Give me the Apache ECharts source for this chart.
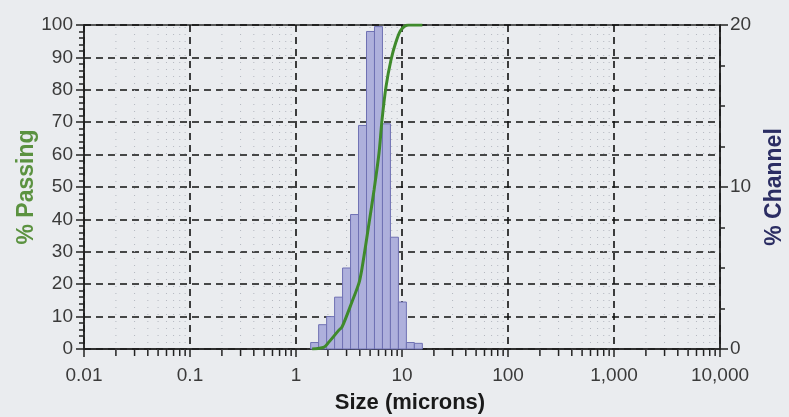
<!DOCTYPE html>
<html>
<head>
<meta charset="utf-8">
<script src="https://cdn.jsdelivr.net/npm/echarts@6/dist/echarts.min.js"></script>
<style>
html,body{margin:0;padding:0;background:#e9ebee;}
#c{width:789px;height:417px;}
</style>
</head>
<body>
<div id="c"></div>
<script>
// Channel bins (microns) and % channel values
const binLower = [1.375, 1.635, 1.945, 2.312, 2.750, 3.270, 3.889, 4.625, 5.500, 6.541, 7.778, 9.250, 11.00, 13.08];
const binUpper = [1.635, 1.945, 2.312, 2.750, 3.270, 3.889, 4.625, 5.500, 6.541, 7.778, 9.250, 11.00, 13.08, 15.56];
const channelPct = [0.4, 1.5, 2.0, 3.2, 5.0, 8.3, 13.8, 19.6, 19.9, 13.9, 6.9, 2.9, 0.4, 0.35];

// Cumulative % passing curve
const passSize = [1.42, 1.84, 2.05, 2.55, 2.72, 3.37, 3.93, 4.20, 4.89, 5.45, 6.07, 6.48, 7.06, 7.87, 8.78, 9.79, 11.6, 15.56];
const passPct  = [0, 0.6, 2.2, 5.9, 6.8, 14.5, 20.4, 25.0, 38.9, 49.1, 60.5, 70.7, 80.9, 89.2, 94.8, 98.5, 100, 100];

// Tick labels
const xTickLabels = ['0.01', '0.1', '1', '10', '100', '1,000', '10,000'];
const xDecades = [0.01, 0.1, 1, 10, 100, 1000, 10000];
const minorMultipliers = [2, 3, 4, 5, 6, 7, 8, 9];

const minorPositions = [];
for (let d = 0; d < xDecades.length - 1; d++) {
  for (const m of minorMultipliers) minorPositions.push(xDecades[d] * m);
}

const chart = echarts.init(document.getElementById('c'));
const FONT = 'Liberation Sans, Arial, sans-serif';

const option = {
  backgroundColor: '#eaecef',
  animation: false,
  grid: { left: 84, right: 69, top: 25, bottom: 68, containLabel: false, outerBoundsMode: 'none',
          show: true, borderColor: '#2a2a2a', borderWidth: 1.5, backgroundColor: 'transparent' },
  xAxis: {
    type: 'log', logBase: 10, min: 0.01, max: 10000,
    name: 'Size (microns)', nameLocation: 'middle', nameGap: 43, nameMoveOverlap: false,
    nameTextStyle: { fontFamily: FONT, fontWeight: 'bold', fontSize: 22, color: '#1a1a1a', padding: [0, 0, 0, 16] },
    axisLine: { lineStyle: { color: '#222', width: 1.5 } },
    axisTick: { length: 8, lineStyle: { color: '#222', width: 1.5 } },
    axisLabel: {
      fontFamily: FONT, fontSize: 19, color: '#3a3a3a', margin: 17,
      formatter: function (v) { const i = Math.round(Math.log10(v)) + 2; return xTickLabels[i] || ''; }
    },
    splitLine: { show: true, lineStyle: { type: [7, 5], color: '#111', width: 1.6 } }
  },
  yAxis: [
    {
      type: 'value', min: 0, max: 100, interval: 10,
      name: '% Passing', nameLocation: 'middle', nameGap: 46, nameRotate: 90, nameMoveOverlap: false,
      nameTextStyle: { fontFamily: FONT, fontWeight: 'bold', fontSize: 23, color: '#5b9240' },
      axisLine: { show: true, lineStyle: { color: '#222', width: 1.5 } },
      axisTick: { show: true, length: 8, lineStyle: { color: '#222', width: 1.5 } },
      minorTick: { show: true, splitNumber: 5, length: 5, lineStyle: { color: '#222', width: 1.5 } },
      axisLabel: { fontFamily: FONT, fontSize: 19, color: '#3a3a3a', margin: 11 },
      splitLine: { show: true, lineStyle: { type: [7, 5], color: '#111', width: 1.6 } }
    },
    {
      type: 'value', min: 0, max: 20, interval: 10, position: 'right',
      name: '% Channel', nameLocation: 'middle', nameGap: 43, nameRotate: 90, nameMoveOverlap: false,
      nameTextStyle: { fontFamily: FONT, fontWeight: 'bold', fontSize: 23, color: '#2b2d63' },
      axisLine: { show: true, lineStyle: { color: '#222', width: 1.5 } },
      axisTick: { show: true, length: 8, lineStyle: { color: '#222', width: 1.5 } },
      minorTick: { show: true, splitNumber: 4, length: 5, lineStyle: { color: '#222', width: 1.5 } },
      axisLabel: { fontFamily: FONT, fontSize: 19, color: '#3a3a3a', margin: 10 },
      splitLine: { show: false }
    }
  ],
  series: [
    {
      type: 'custom', name: 'minor', silent: true, clip: false, z: 1,
      xAxisIndex: 0, yAxisIndex: 0,
      data: minorPositions.map(v => [v]),
      renderItem: function (params, api) {
        const v = api.value(0);
        const b = api.coord([v, 0]);
        const t = api.coord([v, 100]);
        return {
          type: 'group',
          children: [
            { type: 'line', shape: { x1: b[0], y1: b[1] + 1, x2: b[0], y2: t[1] },
              style: { stroke: '#b3b7bf', lineWidth: 1, lineDash: [1, 6] } },
            { type: 'line', shape: { x1: b[0], y1: b[1], x2: b[0], y2: b[1] + 7 },
              style: { stroke: '#222', lineWidth: 1.5 } }
          ]
        };
      }
    },
    {
      type: 'custom', name: '% Channel', z: 3,
      xAxisIndex: 0, yAxisIndex: 1,
      data: channelPct.map((p, i) => [binLower[i], binUpper[i], p]),
      renderItem: function (params, api) {
        const p0 = api.coord([api.value(0), 0]);
        const p1 = api.coord([api.value(1), api.value(2)]);
        return {
          type: 'rect',
          shape: { x: p0[0], y: p1[1], width: p1[0] - p0[0], height: p0[1] - p1[1] },
          style: { fill: '#aeb0dc', stroke: '#6f71b3', lineWidth: 1 }
        };
      }
    },
    {
      type: 'line', name: '% Passing', z: 5,
      xAxisIndex: 0, yAxisIndex: 0,
      data: passSize.map((s, i) => [s, passPct[i]]),
      symbol: 'none', smooth: 0.3,
      lineStyle: { color: '#3f8a2c', width: 3 }
    }
  ]
};
chart.setOption(option);
</script>
</body>
</html>
